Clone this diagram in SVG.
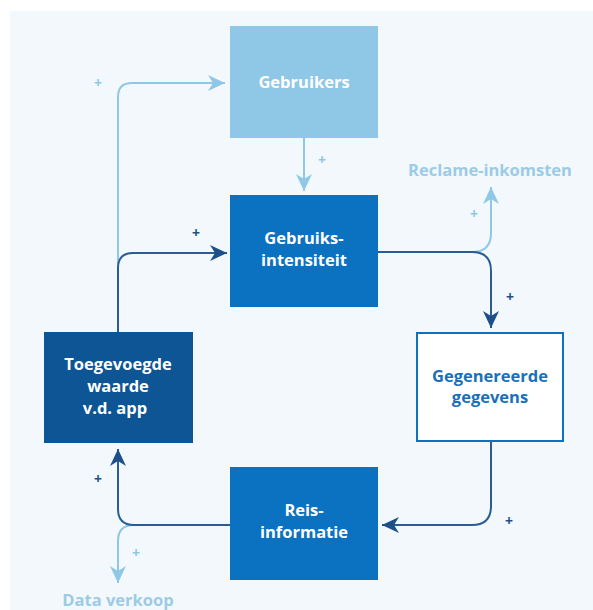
<svg xmlns="http://www.w3.org/2000/svg" width="593" height="610" viewBox="0 0 593 610">
  <style>
    .lbl { font-family: "Open Sans", "Noto Sans", "Liberation Sans", sans-serif; font-weight: 700; font-size: 16.5px; text-anchor: middle; }
    .wh { fill: #ffffff; }
    .bl { fill: #1a70b8; }
    .lt { fill: #9ccbe6; }
    .pl { font-family: "Open Sans", "Liberation Sans", sans-serif; font-weight: 700; font-size: 14px; text-anchor: middle; }
    .pl-d { fill: #1d4f8a; }
    .pl-l { fill: #8ec8e6; }
    .ln { fill: none; stroke-width: 2; }
    .ln-d { stroke: #2a5d94; }
    .ln-l { stroke: #8ec8e6; }
  </style>
  <defs>
    <marker id="ah-d" markerUnits="userSpaceOnUse" markerWidth="20" markerHeight="20" viewBox="-18 -9 20 18" refX="0" refY="0" orient="auto">
      <path d="M0,0 L-17,-8 L-12,0 L-17,8 Z" fill="#1d4f8a"/>
    </marker>
    <marker id="ah-l" markerUnits="userSpaceOnUse" markerWidth="20" markerHeight="20" viewBox="-18 -9 20 18" refX="0" refY="0" orient="auto">
      <path d="M0,0 L-17,-8 L-12,0 L-17,8 Z" fill="#8ec8e6"/>
    </marker>
  </defs>

  <!-- page background -->
  <rect x="0" y="0" width="593" height="610" fill="#ffffff"/>
  <rect x="10" y="11" width="583" height="599" fill="#f3f8fc"/>

  <!-- connectors -->
  <g id="connectors">
    <!-- value of the app feeds users (light) and usage (dark) -->
    <path class="ln ln-l" d="M118,268 V97 Q118,83 132,83 H225" marker-end="url(#ah-l)"/>
    <path class="ln ln-d" d="M118,332 V268 Q118,253 133,253 H227" marker-end="url(#ah-d)"/>
    <!-- users to usage intensity -->
    <path class="ln ln-l" d="M304,138 V191" marker-end="url(#ah-l)"/>
    <!-- usage intensity to generated data, with branch to ad revenue -->
    <path class="ln ln-l" d="M472,252 Q491,252 491,233 V187" marker-end="url(#ah-l)"/>
    <path class="ln ln-d" d="M378,252 H472 Q491,252 491,271 V328" marker-end="url(#ah-d)"/>
    <!-- generated data to travel information -->
    <path class="ln ln-d" d="M491,442 V506 Q491,525 472,525 H382" marker-end="url(#ah-d)"/>
    <!-- travel information to value of the app, with branch to data sales -->
    <path class="ln ln-l" d="M134,525 Q118,525 118,541 V583" marker-end="url(#ah-l)"/>
    <path class="ln ln-d" d="M230,525 H134 Q118,525 118,509 V449" marker-end="url(#ah-d)"/>
  </g>

  <!-- polarity signs -->
  <g id="signs">
    <text class="pl pl-l" x="98" y="88">+</text>
    <text class="pl pl-l" x="322" y="165">+</text>
    <text class="pl pl-d" x="196" y="238">+</text>
    <text class="pl pl-l" x="474" y="219">+</text>
    <text class="pl pl-d" x="510" y="302">+</text>
    <text class="pl pl-d" x="509" y="526">+</text>
    <text class="pl pl-d" x="98" y="484">+</text>
    <text class="pl pl-l" x="136" y="558">+</text>
  </g>

  <g id="gebruikers">
    <rect x="230" y="26" width="148" height="112" fill="#8fc8e6"/>
    <text class="lbl wh" x="304" y="88">Gebruikers</text>
  </g>

  <g id="gebruiksintensiteit">
    <rect x="230" y="195" width="148" height="112" fill="#0a72c0"/>
    <text class="lbl wh" x="304" y="244">Gebruiks-</text>
    <text class="lbl wh" x="304" y="266">intensiteit</text>
  </g>

  <g id="toegevoegde-waarde">
    <rect x="44" y="332" width="149" height="111" fill="#0d5594"/>
    <text class="lbl wh" x="118" y="370">Toegevoegde</text>
    <text class="lbl wh" x="118" y="392">waarde</text>
    <text class="lbl wh" x="115" y="414">v.d. app</text>
  </g>

  <g id="gegenereerde-gegevens">
    <rect x="417" y="333" width="146" height="108" fill="#ffffff" stroke="#0a72c0" stroke-width="2"/>
    <text class="lbl bl" x="490" y="382">Gegenereerde</text>
    <text class="lbl bl" x="490" y="403">gegevens</text>
  </g>

  <g id="reisinformatie">
    <rect x="230" y="467" width="148" height="113" fill="#0a72c0"/>
    <text class="lbl wh" x="304" y="516">Reis-</text>
    <text class="lbl wh" x="304" y="538">informatie</text>
  </g>

  <g id="reclame-inkomsten">
    <text class="lbl lt" x="490" y="176">Reclame-inkomsten</text>
  </g>

  <g id="data-verkoop">
    <text class="lbl lt" x="118" y="606">Data verkoop</text>
  </g>
</svg>
